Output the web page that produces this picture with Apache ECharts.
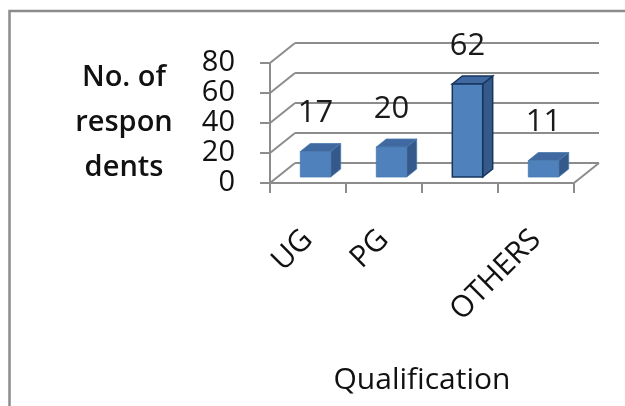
<!DOCTYPE html>
<html>
<head>
<meta charset="utf-8">
<script src="https://cdn.jsdelivr.net/npm/echarts@6/dist/echarts.min.js"></script>
<style>
  html, body { margin: 0; padding: 0; background: #fff; }
  #chart { width: 625px; height: 406px; }
</style>
</head>
<body>
<div id="chart"></div>
<script>
var categories = ['UG', 'PG', '', 'OTHERS'];
var respondents = [17, 20, 62, 11];
var yTicks = [0, 20, 40, 60, 80];

// 3d look: depth of the whole floor, and where the bars sit inside it
var depthX = 25, depthY = -20;
var barFront = 0.3, barBack = 0.7;
var selectedIndex = 2;

var dom = document.getElementById('chart');
var myChart = echarts.init(dom);

function wallItem(params, api) {
    var v = api.value(1);
    var p = api.coord([0, v]);
    var bw = api.size([1, 0])[0];
    var x0 = p[0] - bw / 2;
    var x1 = x0 + bw * categories.length;
    var y = p[1];
    var style = { stroke: '#8c8c8c', lineWidth: 2 };
    var children = [
        { type: 'line', shape: { x1: x0, y1: y, x2: x0 + depthX, y2: y + depthY }, style: style },
        { type: 'line', shape: { x1: x0 + depthX, y1: y + depthY, x2: x1 + depthX, y2: y + depthY }, style: style }
    ];
    if (v === 0) {
        children.push({ type: 'line', shape: { x1: x1, y1: y, x2: x1 + depthX, y2: y + depthY }, style: style });
    }
    return { type: 'group', children: children };
}

function barItem(params, api) {
    var i = api.value(0);
    var v = api.value(1);
    var base = api.coord([i, 0]);
    var top = api.coord([i, v]);
    var bw = api.size([1, 0])[0];
    var w = bw * 0.4;
    var fx = depthX * barFront, fy = depthY * barFront;
    var dx = depthX * (barBack - barFront), dy = depthY * (barBack - barFront);
    var xl = base[0] - w / 2 + fx;
    var xr = base[0] + w / 2 + fx;
    var yb = base[1] + fy;
    var yt = top[1] + fy;
    var sel = params.dataIndex === selectedIndex;
    var edge = sel ? '#17365d' : '#4a78ad';
    var lw = sel ? 1.5 : 0.8;
    return {
        type: 'group',
        children: [
            { type: 'polygon', shape: { points: [[xr, yb], [xr + dx, yb + dy], [xr + dx, yt + dy], [xr, yt]] },
              style: { fill: '#34598a', stroke: edge, lineWidth: lw } },
            { type: 'polygon', shape: { points: [[xl, yt], [xl + dx, yt + dy], [xr + dx, yt + dy], [xr, yt]] },
              style: { fill: '#3f69a0', stroke: edge, lineWidth: lw } },
            { type: 'rect', shape: { x: xl, y: yt, width: xr - xl, height: yb - yt },
              style: { fill: '#4f81bd', stroke: edge, lineWidth: lw } },
            { type: 'text', x: (xl + xr) / 2, y: yt - 38,
              style: { text: String(v), fill: '#1a1a1a', font: '31px "Open Sans"', align: 'center', verticalAlign: 'middle' } }
        ]
    };
}

myChart.setOption({
    animation: false,
    backgroundColor: '#fff',
    textStyle: { fontFamily: 'Open Sans' },
    graphic: [{
        type: 'rect',
        shape: { x: 9.5, y: 11, width: 700, height: 500 },
        style: { fill: 'none', stroke: '#8c8c8c', lineWidth: 2.5 },
        silent: true
    }],
    grid: { left: 270, right: 51, top: 63, bottom: 223 },
    xAxis: {
        type: 'category',
        data: categories,
        name: 'Qualification',
        nameLocation: 'middle',
        nameGap: 182,
        nameTextStyle: { fontSize: 30, color: '#111' },
        axisLine: { lineStyle: { color: '#8c8c8c', width: 2 } },
        axisTick: { show: true, length: 10, alignWithLabel: false, lineStyle: { color: '#8c8c8c', width: 2 } },
        axisLabel: { interval: 0, rotate: 45, margin: 52, fontSize: 30, color: '#111' },
        splitLine: { show: false }
    },
    yAxis: {
        type: 'value',
        min: 0,
        max: 80,
        interval: 20,
        name: 'No. of\nrespon\ndents',
        nameLocation: 'middle',
        nameRotate: 0,
        nameGap: 146,
        nameTextStyle: { fontSize: 29, fontWeight: 600, color: '#111', lineHeight: 45, align: 'center', verticalAlign: 'middle', padding: [0, 0, 14, 0] },
        axisLine: { show: true, lineStyle: { color: '#8c8c8c', width: 2 } },
        axisTick: { show: true, length: 10, lineStyle: { color: '#8c8c8c', width: 2 } },
        axisLabel: { margin: 35, fontSize: 29, color: '#111' },
        splitLine: { show: false }
    },
    series: [{
        name: 'walls',
        type: 'custom',
        clip: false,
        z: 1,
        silent: true,
        renderItem: wallItem,
        data: yTicks.map(function (v) { return [0, v]; })
    }, {
        name: 'No. of respondents',
        type: 'custom',
        clip: false,
        z: 3,
        renderItem: barItem,
        data: respondents.map(function (v, i) { return [i, v]; })
    }]
});
</script>
</body>
</html>
